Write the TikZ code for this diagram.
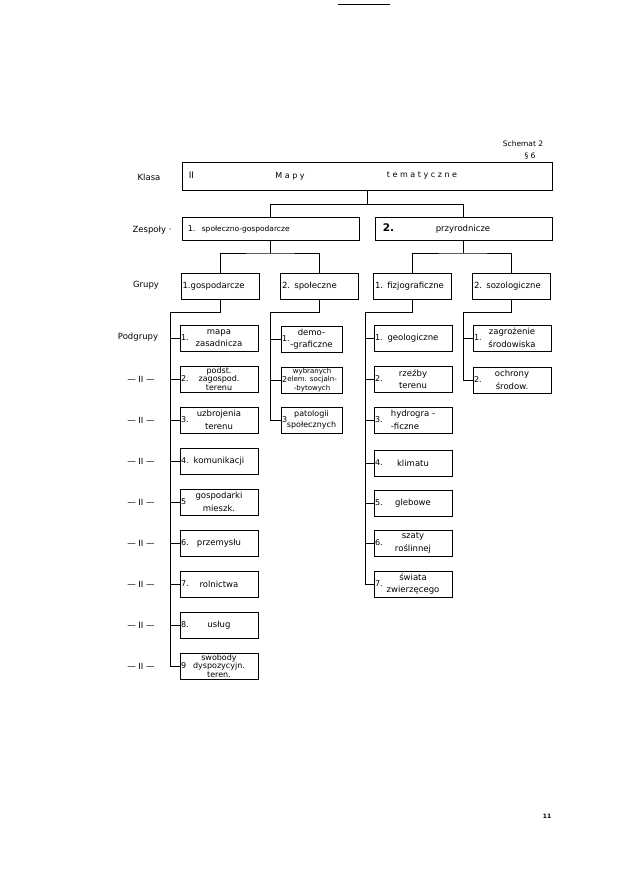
\documentclass[tikz,border=0pt]{standalone}
\usepackage{fontspec}
\setmainfont{DejaVu Sans}
\usetikzlibrary{positioning}

\tikzset{
  kasten/.style={draw, rectangle, inner sep=0.5pt, minimum height=26pt, align=center,
    font=\fontsize{8.5}{12.5}\selectfont},
  eng/.style={font=\fontsize{8}{8.2}\selectfont},
  gruppe/.style={kasten, text width=75pt, inner xsep=1.5pt, align=left, font=\fontsize{8.5}{10}\selectfont},
  nummer/.style={anchor=west, inner sep=1pt, font=\fontsize{8}{9}\selectfont},
  seite/.style={font=\fontsize{8.5}{10}\selectfont},
  boxtext/.style={font=\fontsize{8}{10}\selectfont}
}

% Kasten einer Podgrupa: [Optionen], Name, x, y, Breite, Nummer, Text
\newcommand{\podgrupa}[7][]{
  \node[kasten, minimum width=#5, #1] (#2) at (#3,#4) {#7};
  \node[nummer] (#2_nr) at (#2.west) {#6};
}

\begin{document}
\begin{tikzpicture}[x=1pt, y=-1pt, line width=1pt]

  \useasboundingbox (0,0) rectangle (633,894);

  \draw (338,4) -- (390,4);

  % Kopf
  \node[font=\fontsize{7.5}{9}\selectfont] (schemat) at (523,144) {Schemat 2};
  \node[font=\fontsize{7.5}{9}\selectfont] (paragraf) at (530,156) {§ 6};

  % Beschriftung links
  \node[seite] (l_klasa) at (149,177) {Klasa};
  \node[seite] (l_zesp) at (152,230) {Zespoły ·};
  \node[seite] (l_grupy) at (146,285) {Grupy};
  \node[seite] (l_podgr) at (138,337) {Podgrupy};
  \foreach \y [count=\i] in {379,420,461,502,543,584,625,666}
    \node[seite] (l_ditto\i) at (141,\y) {— II —};

  % Klasa
  \node[kasten, minimum width=370, minimum height=28] (klasa) at (367,176) {};
  \node[font=\fontsize{9}{10}\selectfont, anchor=west] (klasa_nr) at (185,175) {II};
  \node[boxtext] (klasa_a) at (290,176) {M a p y};
  \node[boxtext] (klasa_b) at (422,176) {t e m a t y c z n e};

  % Zespoly
  \node[kasten, minimum width=177, minimum height=23] (zesp1) at (270.5,228.5) {};
  \node[kasten, minimum width=177, minimum height=23] (zesp2) at (463.5,228.5) {};
  \node[boxtext, anchor=west] (zesp1_nr) at (184,229) {1.};
  \node[boxtext, anchor=west, font=\fontsize{7.5}{10}\selectfont] (zesp1_t) at (198,229) {społeczno-gospodarcze};
  \node[boxtext, anchor=west, font=\fontsize{10.5}{10}\selectfont\bfseries] (zesp2_nr) at (379,228) {2.};
  \node[boxtext, font=\fontsize{8.5}{10}\selectfont] (zesp2_t) at (463,229) {przyrodnicze};

  \coordinate (kz) at (367,204);
  \draw (klasa.south) -- (kz);
  \draw (zesp1.north) -- (zesp1.north |- kz) -- (zesp2.north |- kz) -- (zesp2.north);

  % Grupy
  \node[gruppe] (g1) at (220,286) {1.gospodarcze};
  \node[gruppe] (g2) at (319.5,286) {2. społeczne};
  \node[gruppe] (g3) at (412.5,286) {1. fizjograficzne};
  \node[gruppe] (g4) at (511.5,286) {2. sozologiczne};

  \coordinate (zg1) at (270.5,253);
  \coordinate (zg2) at (463.5,253);
  \draw (zesp1.south) -- (zg1);
  \draw (zesp2.south) -- (zg2);
  \draw (g1.north) |- (zg1) -| (g2.north);
  \draw (g3.north) |- (zg2) -| (g4.north);

  % Podgrupy -- gospodarcze
  \podgrupa{pa1}{219}{338}{78}{1.}{mapa\\zasadnicza}
  \podgrupa[eng]{pa2}{219}{379}{78}{2.}{podst.\\zagospod.\\terenu}
  \podgrupa{pa3}{219}{420}{78}{3.}{uzbrojenia\\terenu}
  \podgrupa{pa4}{219}{461}{78}{4.}{komunikacji}
  \podgrupa{pa5}{219}{502}{78}{5}{gospodarki\\mieszk.}
  \podgrupa{pa6}{219}{543}{78}{6.}{przemysłu}
  \podgrupa{pa7}{219}{584}{78}{7.}{rolnictwa}
  \podgrupa{pa8}{219}{625}{78}{8.}{usług}
  \podgrupa[eng]{pa9}{219}{666}{78}{9}{swobody\\dyspozycyjn.\\teren.}

  % Podgrupy -- spoleczne
  \podgrupa{pb1}{311.5}{339}{61}{1.}{demo-\\-graficzne}
  \podgrupa[font=\fontsize{7}{8.2}\selectfont]{pb2}{311.5}{380}{61}{2}{\,wybranych\\\,elem. socjaln-\\\,-bytowych}
  \podgrupa[font=\fontsize{8}{11}\selectfont]{pb3}{311.5}{420}{61}{3}{patologii\\społecznych}

  % Podgrupy -- fizjograficzne
  \podgrupa{pc1}{413}{338}{78}{1.}{geologiczne}
  \podgrupa{pc2}{413}{379}{78}{2.}{rzeźby\\terenu}
  \podgrupa[align=left]{pc3}{413}{420}{78}{3.}{hydrogra -\\-ficzne}
  \podgrupa{pc4}{413}{463}{78}{4.}{klimatu}
  \podgrupa{pc5}{413}{503}{78}{5.}{glebowe}
  \podgrupa{pc6}{413}{543}{78}{6.}{szaty\\roślinnej}
  \podgrupa{pc7}{413}{584}{78}{7.}{świata\\zwierzęcego}

  % Podgrupy -- sozologiczne
  \podgrupa{pd1}{512}{338}{78}{1.}{zagrożenie\\środowiska}
  \podgrupa{pd2}{512}{380}{78}{2.}{ochrony\\środow.}

  % Verbindungen zu den Podgrupy
  \coordinate (s1) at (170,312);
  \coordinate (s2) at (270,312);
  \coordinate (s3) at (365,312);
  \coordinate (s4) at (463,312);
  \draw (g1.south) |- (s1);
  \draw (g2.south) |- (s2);
  \draw (g3.south) |- (s3);
  \draw (g4.south) |- (s4);
  \foreach \n in {pa1,pa2,pa3,pa4,pa5,pa6,pa7,pa8,pa9}
    \draw (s1) |- (\n.west);
  \foreach \n in {pb1,pb2,pb3}
    \draw (s2) |- (\n.west);
  \foreach \n in {pc1,pc2,pc3,pc4,pc5,pc6,pc7}
    \draw (s3) |- (\n.west);
  \foreach \n in {pd1,pd2}
    \draw (s4) |- (\n.west);

  % Seitenzahl
  \node[font=\fontsize{6}{6}\selectfont\bfseries] (seite) at (547,816) {11};

\end{tikzpicture}
\end{document}
